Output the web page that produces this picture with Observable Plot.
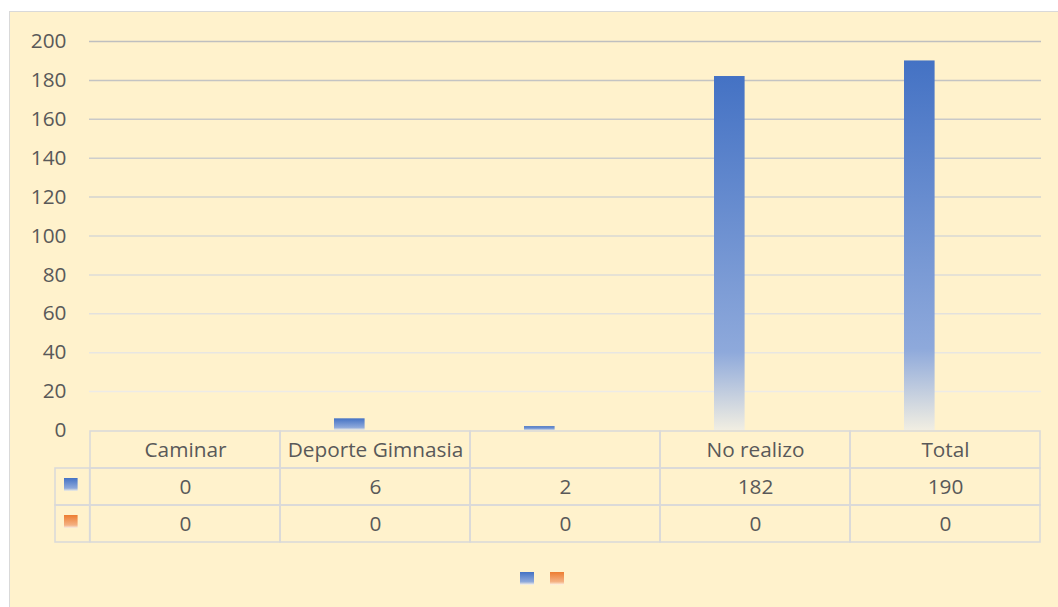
<!DOCTYPE html>
<html>
<head>
<meta charset="utf-8">
<script src="https://cdn.jsdelivr.net/npm/d3@7"></script>
<script src="https://cdn.jsdelivr.net/npm/@observablehq/plot@0.6"></script>
<style>
  html, body { margin: 0; padding: 0; background: #ffffff; overflow: hidden; width: 1058px; height: 607px; }
  #bg { position: absolute; left: 9px; top: 11px; width: 1100px; height: 650px; background: #FFF2CC;
        border-left: 1.5px solid #D9D9D9; border-top: 1.5px solid #D9D9D9; }
  #chart { position: absolute; left: 0; top: 0; }
  #table { position: absolute; left: 0; top: 430px; }
  .sw { position: absolute; width: 14px; height: 13px; }
</style>
</head>
<body>
<div id="bg"></div>
<div id="chart"></div>
<div id="table"></div>
<div id="legend"></div>
<script>
// ---- data ----
const categories = ["Caminar", "Deporte Gimnasia", "", "No realizo", "Total"];
const serie1 = [0, 6, 2, 182, 190];
const serie2 = [0, 0, 0, 0, 0];
const yTicks = [0, 20, 40, 60, 80, 100, 120, 140, 160, 180, 200];
const seriesColors = [["#4472C4", "#8EA9DB"], ["#ED7D31", "#F4B183"]];

const rows = categories.map((c, i) => ({cat: c, v1: serie1[i], v2: serie2[i]}));
const font = "'Open Sans', sans-serif";
const fs = 20.8;
const textColor = "#595959";
const gridColor = d3.interpolateRgb("#F2F0EA", "#BFBFBF");

function defs() {
  const ns = "http://www.w3.org/2000/svg";
  const g = document.createElementNS(ns, "g");
  g.innerHTML = `<defs>
    <linearGradient id="gBlue" x1="0" y1="0" x2="0" y2="1">
      <stop offset="0" stop-color="${seriesColors[0][0]}"/>
      <stop offset="0.78" stop-color="${seriesColors[0][1]}"/>
      <stop offset="1" stop-color="#F1EEE2"/>
    </linearGradient>
    <linearGradient id="gOrange" x1="0" y1="0" x2="0" y2="1">
      <stop offset="0" stop-color="${seriesColors[1][0]}"/>
      <stop offset="0.78" stop-color="${seriesColors[1][1]}"/>
      <stop offset="1" stop-color="#F8EEE2"/>
    </linearGradient>
  </defs>`;
  return g;
}

const band = (1041 - 89) / categories.length;

const chart = Plot.plot({
  width: 1058, height: 440,
  marginLeft: 89, marginRight: 17, marginTop: 41, marginBottom: 10,
  style: {background: "transparent", fontFamily: font, fontSize: fs + "px", color: textColor, overflow: "visible"},
  x: {domain: categories, padding: 0, axis: null},
  y: {domain: [0, 200], label: null, axis: null},
  marks: [
    defs,
    Plot.ruleY(yTicks.filter(v => v > 0), {y: d => d, stroke: d => gridColor(d / 200), strokeWidth: 1.5}),
    Plot.barY(rows, {x: "cat", y: "v1", fill: "url(#gBlue)", insetLeft: 54, insetRight: band - 85}),
    Plot.barY(rows, {x: "cat", y: "v2", fill: "url(#gOrange)", insetLeft: 85, insetRight: band - 116}),
    Plot.axisY({ticks: yTicks, tickSize: 0, tickPadding: 23, label: null, fill: textColor, fontSize: fs, fontFamily: font})
  ]
});
document.getElementById("chart").appendChild(chart);

// ---- data table ----
const cells = [];
categories.forEach((c, i) => {
  cells.push({cat: c, row: "cat", label: c});
  cells.push({cat: c, row: "s1", label: String(serie1[i])});
  cells.push({cat: c, row: "s2", label: String(serie2[i])});
});
const legendRows = ["s1", "s2"];

const table = Plot.plot({
  width: 1058, height: 113,
  marginLeft: 89, marginRight: 17, marginTop: 0, marginBottom: 0,
  style: {background: "transparent", fontFamily: font, fontSize: fs + "px", color: textColor, overflow: "visible"},
  x: {domain: categories, padding: 0, axis: null},
  y: {domain: ["cat", "s1", "s2"], padding: 0, axis: null},
  marks: [
    defs,
    Plot.cell(cells, {x: "cat", y: "row", fill: "none", stroke: "#D9D9D9", strokeWidth: 1.5}),
    Plot.cell(legendRows, {x: () => categories[0], y: d => d, fill: "none", stroke: "#D9D9D9", strokeWidth: 1.5,
      insetLeft: -35, insetRight: band}),
    Plot.cell(["s1"], {x: () => categories[0], y: d => d, fill: "url(#gBlue)",
      insetLeft: -26, insetRight: band + 12, insetTop: 10, insetBottom: 14}),
    Plot.cell(["s2"], {x: () => categories[0], y: d => d, fill: "url(#gOrange)",
      insetLeft: -26, insetRight: band + 12, insetTop: 10, insetBottom: 14}),
    Plot.text(cells, {x: "cat", y: "row", text: "label", fill: textColor, fontSize: fs, fontFamily: font})
  ]
});
document.getElementById("table").appendChild(table);

// ---- legend (below) ----
const legend = document.getElementById("legend");
seriesColors.forEach((c, i) => {
  const d = document.createElement("div");
  d.className = "sw";
  d.style.left = (520 + i * 30) + "px";
  d.style.top = "572px";
  d.style.background = `linear-gradient(to bottom, ${c[0]} 0%, ${c[1]} 75%, #FFF6E6 100%)`;
  legend.appendChild(d);
});
</script>
</body>
</html>
